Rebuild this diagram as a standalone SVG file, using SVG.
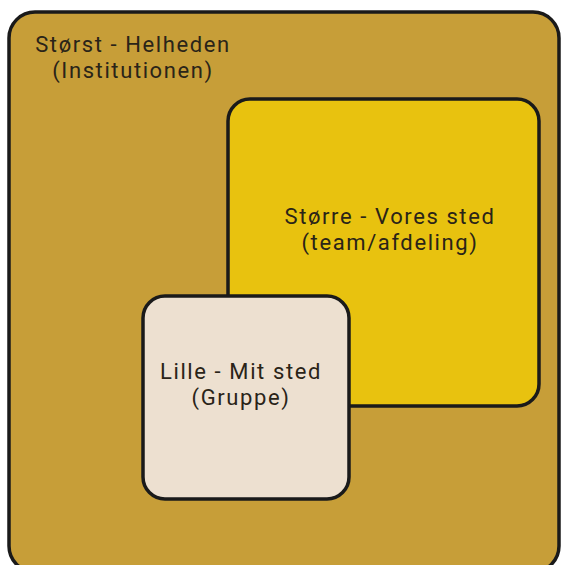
<svg xmlns="http://www.w3.org/2000/svg" width="563" height="565" viewBox="0 0 563 565">
<style>
.box{stroke:#1a1a1a;stroke-width:3.5}
.t{font-family:Roboto,"Open Sans",sans-serif;font-size:22px;letter-spacing:1.6px;fill:#2a2418;text-anchor:middle}
</style>
<rect width="563" height="565" fill="#ffffff"/>
<g id="outer">
<rect class="box" x="9" y="12" width="550" height="560" rx="26" fill="#C79E38"/>
<text class="t"><tspan x="133" y="52">Størst - Helheden</tspan><tspan x="133" y="78">(Institutionen)</tspan></text>
</g>
<g id="middle">
<rect class="box" x="228" y="99" width="311" height="307" rx="22" fill="#E8C20F"/>
<text class="t"><tspan x="390" y="224">Større - Vores sted</tspan><tspan x="390" y="250">(team/afdeling)</tspan></text>
</g>
<g id="inner">
<rect class="box" x="143" y="296" width="206" height="203" rx="22" fill="#EDE0D0"/>
<text class="t"><tspan x="241" y="379">Lille - Mit sted</tspan><tspan x="241" y="405">(Gruppe)</tspan></text>
</g>
<g id="connectors"/>
</svg>
